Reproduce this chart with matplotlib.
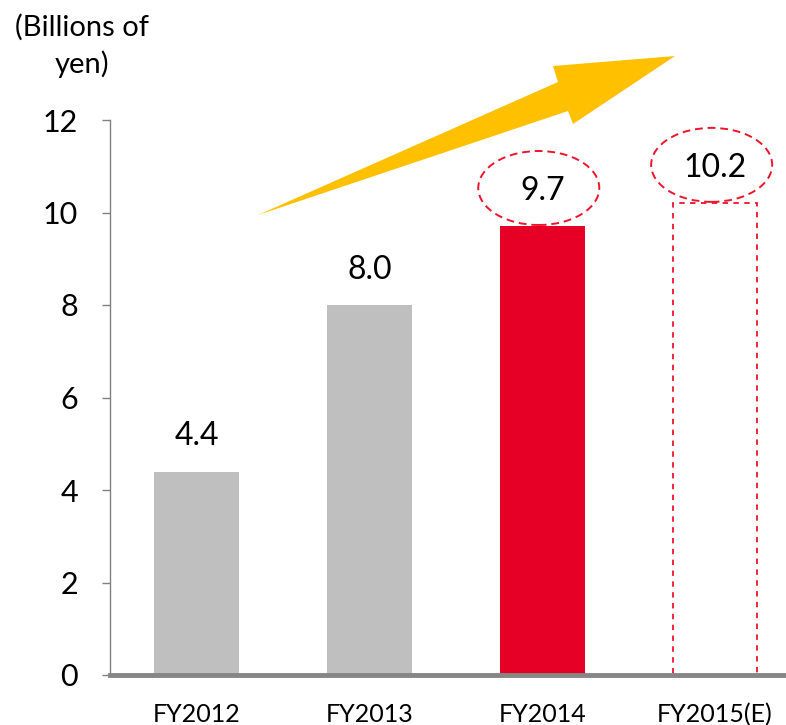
import matplotlib
matplotlib.use("Agg")
import matplotlib.pyplot as plt
from matplotlib.patches import Ellipse, Polygon

categories = ["FY2012", "FY2013", "FY2014", "FY2015(E)"]
values = [4.4, 8.0, 9.7, 10.2]
labels = ["4.4", "8.0", "9.7", "10.2"]
yticks = [0, 2, 4, 6, 8, 10, 12]

plt.rcParams['font.family'] = ['Lato', 'DejaVu Sans']

W, H = 786, 725
fig = plt.figure(figsize=(W/100, H/100), dpi=100)
ax_left, ax_right = 110, 786
ax_top, ax_bot = 120, 675
ax = fig.add_axes([ax_left/W, 1-ax_bot/H, (ax_right-ax_left)/W, (ax_bot-ax_top)/H])

x = list(range(len(categories)))
bw = 0.49
colors = ["#BFBFBF", "#BFBFBF", "#E60026"]
ax.bar(x[:3], values[:3], width=bw, color=colors, zorder=2)
ax.bar(x[3], values[3], width=bw, facecolor='none', edgecolor='#F0142A',
       linestyle=(0, (3, 3)), linewidth=1.3, zorder=2)

for i, (v, t) in enumerate(zip(values, labels)):
    ax.text(i, v + 0.76, t, ha='center', va='center', fontsize=23, color='black', zorder=4)

for i in [2, 3]:
    e = Ellipse((i - 0.02, values[i] + 0.83), 0.70, 1.6, facecolor='none',
                edgecolor='#F0142A', linestyle=(0, (4, 2.5)), linewidth=1.4, zorder=3,
                clip_on=False)
    ax.add_patch(e)

ax.set_xlim(-0.5, 3.41)
ax.set_ylim(0, 12)
ax.set_yticks(yticks)
ax.set_yticklabels([str(t) for t in yticks])
ax.set_xticks(x)
ax.set_xticklabels(categories)
ax.tick_params(axis='y', direction='out', length=6, color='#808080', width=1,
               labelsize=22, pad=17)
ax.tick_params(axis='x', length=0, labelsize=18, pad=20)
for s in ['top', 'right']:
    ax.spines[s].set_visible(False)
ax.spines['left'].set_color('#808080')
ax.spines['left'].set_linewidth(1)
ax.spines['bottom'].set_color('#868686')
ax.spines['bottom'].set_linewidth(3.5)

# yellow growth arrow (figure pixel coordinates)
pts = [(258, 215), (558, 82), (553, 66), (675, 56), (573, 124), (568, 111)]
poly = Polygon([(px/W, 1-py/H) for px, py in pts], closed=True,
               facecolor='#FFC000', edgecolor='none', transform=fig.transFigure)
fig.patches.append(poly)

fig.text(82/W, 1-46/H, "(Billions of\nyen)", ha='center', va='center',
         fontsize=21, linespacing=1.45)

fig.savefig("out.png", dpi=100)
